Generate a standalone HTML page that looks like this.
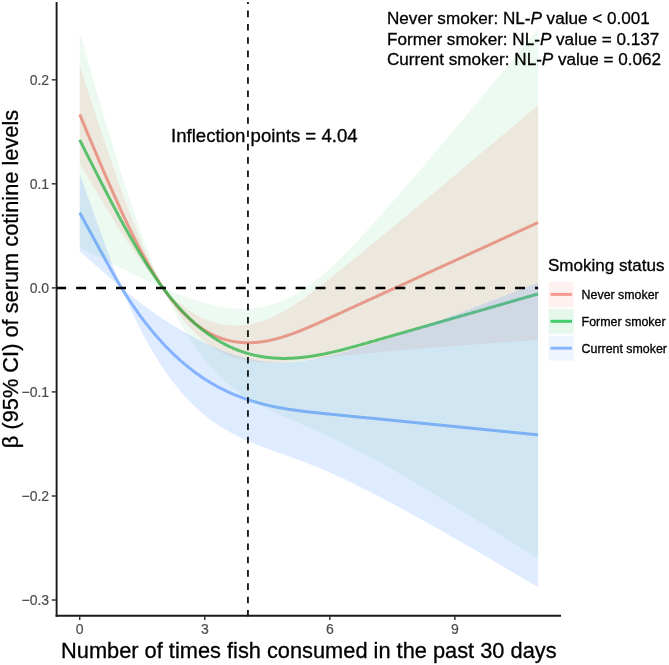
<!DOCTYPE html>
<html lang="en"><head><meta charset="utf-8"><title>Smoking status – fish consumption and serum cotinine</title>
<style>
html,body{margin:0;padding:0;background:#fff;}
body{width:669px;height:665px;overflow:hidden;font-family:"Liberation Sans", sans-serif;}
svg{display:block;}
</style></head><body>
<svg width="669" height="665" viewBox="0 0 669 665" font-family='"Liberation Sans", sans-serif'>
<rect width="669" height="665" fill="#fff"/>
<path d="M79.7,114.4 L80.7,116.8 L81.7,119.2 L82.7,121.6 L83.7,124.0 L84.7,126.4 L85.7,128.8 L86.7,131.2 L87.7,133.6 L88.7,136.0 L89.7,138.3 L90.7,140.7 L91.7,143.1 L92.7,145.5 L93.7,147.9 L94.7,150.2 L95.7,152.6 L96.7,155.0 L97.7,157.3 L98.7,159.7 L99.7,162.0 L100.7,164.4 L101.7,166.7 L102.7,169.0 L103.7,171.3 L104.7,173.7 L105.7,176.0 L106.7,178.3 L107.7,180.6 L108.7,182.8 L109.7,185.1 L110.7,187.4 L111.7,189.7 L112.7,191.9 L113.7,194.2 L114.7,196.4 L115.7,198.6 L116.7,200.8 L117.7,203.0 L118.6,205.2 L119.6,207.4 L120.6,209.6 L121.6,211.8 L122.6,213.9 L123.6,216.1 L124.6,218.2 L125.6,220.3 L126.6,222.4 L127.6,224.5 L128.6,226.6 L129.6,228.6 L130.6,230.7 L131.6,232.7 L132.6,234.7 L133.6,236.8 L134.6,238.7 L135.6,240.7 L136.6,242.7 L137.6,244.6 L138.6,246.6 L139.6,248.5 L140.6,250.4 L141.6,252.3 L142.6,254.1 L143.6,256.0 L144.6,257.8 L145.6,259.6 L146.6,261.4 L147.6,263.2 L148.6,264.9 L149.6,266.7 L150.6,268.4 L151.6,270.1 L152.6,271.8 L153.6,273.4 L154.6,275.1 L155.6,276.7 L156.6,278.3 L157.6,279.9 L158.6,281.4 L159.6,283.0 L160.6,284.5 L161.6,286.0 L162.6,287.5 L163.6,288.9 L164.6,290.3 L165.6,291.7 L166.6,293.1 L167.6,294.5 L168.6,295.8 L169.6,297.1 L170.6,298.4 L171.6,299.7 L172.6,300.9 L173.6,302.1 L174.6,303.3 L175.6,304.5 L176.6,305.7 L177.6,306.8 L178.6,307.9 L179.6,309.0 L180.6,310.1 L181.6,311.2 L182.6,312.2 L183.6,313.2 L184.6,314.2 L185.6,315.2 L186.6,316.2 L187.6,317.1 L188.6,318.0 L189.6,318.9 L190.6,319.8 L191.6,320.7 L192.6,321.5 L193.6,322.3 L194.5,323.1 L195.5,323.9 L196.5,324.7 L197.5,325.4 L198.5,326.2 L199.5,326.9 L200.5,327.6 L201.5,328.3 L202.5,328.9 L203.5,329.6 L204.5,330.2 L205.5,330.8 L206.5,331.4 L207.5,332.0 L208.5,332.5 L209.5,333.1 L210.5,333.6 L211.5,334.1 L212.5,334.6 L213.5,335.1 L214.5,335.5 L215.5,336.0 L216.5,336.4 L217.5,336.8 L218.5,337.2 L219.5,337.6 L220.5,338.0 L221.5,338.3 L222.5,338.7 L223.5,339.0 L224.5,339.3 L225.5,339.6 L226.5,339.9 L227.5,340.2 L228.5,340.4 L229.5,340.6 L230.5,340.9 L231.5,341.1 L232.5,341.3 L233.5,341.5 L234.5,341.6 L235.5,341.8 L236.5,341.9 L237.5,342.1 L238.5,342.2 L239.5,342.3 L240.5,342.4 L241.5,342.5 L242.5,342.6 L243.5,342.6 L244.5,342.7 L245.5,342.7 L246.5,342.7 L247.5,342.7 L248.5,342.7 L249.5,342.7 L250.5,342.7 L251.5,342.7 L252.5,342.6 L253.5,342.6 L254.5,342.5 L255.5,342.4 L256.5,342.4 L257.5,342.3 L258.5,342.2 L259.5,342.1 L260.5,341.9 L261.5,341.8 L262.5,341.7 L263.5,341.5 L264.5,341.3 L265.5,341.2 L266.5,341.0 L267.5,340.8 L268.5,340.6 L269.5,340.4 L270.5,340.2 L271.4,340.0 L272.4,339.8 L273.4,339.5 L274.4,339.3 L275.4,339.0 L276.4,338.8 L277.4,338.5 L278.4,338.2 L279.4,338.0 L280.4,337.7 L281.4,337.4 L282.4,337.1 L283.4,336.8 L284.4,336.5 L285.4,336.1 L286.4,335.8 L287.4,335.5 L288.4,335.1 L289.4,334.8 L290.4,334.4 L291.4,334.1 L292.4,333.7 L293.4,333.4 L294.4,333.0 L295.4,332.6 L296.4,332.3 L297.4,331.9 L298.4,331.5 L299.4,331.1 L300.4,330.7 L301.4,330.3 L302.4,329.9 L303.4,329.5 L304.4,329.1 L305.4,328.7 L306.4,328.2 L307.4,327.8 L308.4,327.4 L309.4,327.0 L310.4,326.5 L311.4,326.1 L312.4,325.7 L313.4,325.2 L314.4,324.8 L315.4,324.4 L316.4,323.9 L317.4,323.5 L318.4,323.0 L319.4,322.6 L320.4,322.1 L321.4,321.7 L322.4,321.2 L323.4,320.8 L324.4,320.3 L325.4,319.9 L326.4,319.4 L327.4,318.9 L328.4,318.5 L329.4,318.0 L330.4,317.6 L331.4,317.1 L332.4,316.7 L333.4,316.2 L334.4,315.7 L335.4,315.3 L336.4,314.8 L337.4,314.4 L338.4,313.9 L339.4,313.5 L340.4,313.0 L341.4,312.5 L342.4,312.1 L343.4,311.6 L344.4,311.2 L345.4,310.7 L346.4,310.3 L347.3,309.8 L348.3,309.3 L349.3,308.9 L350.3,308.4 L351.3,308.0 L352.3,307.5 L353.3,307.1 L354.3,306.6 L355.3,306.1 L356.3,305.7 L357.3,305.2 L358.3,304.8 L359.3,304.3 L360.3,303.9 L361.3,303.4 L362.3,302.9 L363.3,302.5 L364.3,302.0 L365.3,301.6 L366.3,301.1 L367.3,300.7 L368.3,300.2 L369.3,299.7 L370.3,299.3 L371.3,298.8 L372.3,298.4 L373.3,297.9 L374.3,297.5 L375.3,297.0 L376.3,296.6 L377.3,296.1 L378.3,295.6 L379.3,295.2 L380.3,294.7 L381.3,294.3 L382.3,293.8 L383.3,293.4 L384.3,292.9 L385.3,292.4 L386.3,292.0 L387.3,291.5 L388.3,291.1 L389.3,290.6 L390.3,290.2 L391.3,289.7 L392.3,289.2 L393.3,288.8 L394.3,288.3 L395.3,287.9 L396.3,287.4 L397.3,287.0 L398.3,286.5 L399.3,286.0 L400.3,285.6 L401.3,285.1 L402.3,284.7 L403.3,284.2 L404.3,283.8 L405.3,283.3 L406.3,282.8 L407.3,282.4 L408.3,281.9 L409.3,281.5 L410.3,281.0 L411.3,280.6 L412.3,280.1 L413.3,279.6 L414.3,279.2 L415.3,278.7 L416.3,278.3 L417.3,277.8 L418.3,277.4 L419.3,276.9 L420.3,276.4 L421.3,276.0 L422.3,275.5 L423.3,275.1 L424.2,274.6 L425.2,274.2 L426.2,273.7 L427.2,273.2 L428.2,272.8 L429.2,272.3 L430.2,271.9 L431.2,271.4 L432.2,271.0 L433.2,270.5 L434.2,270.0 L435.2,269.6 L436.2,269.1 L437.2,268.7 L438.2,268.2 L439.2,267.8 L440.2,267.3 L441.2,266.8 L442.2,266.4 L443.2,265.9 L444.2,265.5 L445.2,265.0 L446.2,264.6 L447.2,264.1 L448.2,263.7 L449.2,263.2 L450.2,262.7 L451.2,262.3 L452.2,261.8 L453.2,261.4 L454.2,260.9 L455.2,260.5 L456.2,260.0 L457.2,259.5 L458.2,259.1 L459.2,258.6 L460.2,258.2 L461.2,257.7 L462.2,257.3 L463.2,256.8 L464.2,256.3 L465.2,255.9 L466.2,255.4 L467.2,255.0 L468.2,254.5 L469.2,254.1 L470.2,253.6 L471.2,253.1 L472.2,252.7 L473.2,252.2 L474.2,251.8 L475.2,251.3 L476.2,250.9 L477.2,250.4 L478.2,249.9 L479.2,249.5 L480.2,249.0 L481.2,248.6 L482.2,248.1 L483.2,247.7 L484.2,247.2 L485.2,246.7 L486.2,246.3 L487.2,245.8 L488.2,245.4 L489.2,244.9 L490.2,244.5 L491.2,244.0 L492.2,243.5 L493.2,243.1 L494.2,242.6 L495.2,242.2 L496.2,241.7 L497.2,241.3 L498.2,240.8 L499.2,240.3 L500.1,239.9 L501.1,239.4 L502.1,239.0 L503.1,238.5 L504.1,238.1 L505.1,237.6 L506.1,237.1 L507.1,236.7 L508.1,236.2 L509.1,235.8 L510.1,235.3 L511.1,234.9 L512.1,234.4 L513.1,233.9 L514.1,233.5 L515.1,233.0 L516.1,232.6 L517.1,232.1 L518.1,231.7 L519.1,231.2 L520.1,230.8 L521.1,230.3 L522.1,229.8 L523.1,229.4 L524.1,228.9 L525.1,228.5 L526.1,228.0 L527.1,227.6 L528.1,227.1 L529.1,226.6 L530.1,226.2 L531.1,225.7 L532.1,225.3 L533.1,224.8 L534.1,224.4 L535.1,223.9 L536.1,223.4 L537.1,223.0 L538.1,222.5" fill="none" stroke="#F8766D" stroke-opacity="0.71" stroke-width="3.0" stroke-linejoin="round"/>
<path d="M79.7,139.8 L80.7,141.8 L81.7,143.8 L82.7,145.8 L83.7,147.8 L84.7,149.8 L85.7,151.8 L86.7,153.8 L87.7,155.8 L88.7,157.8 L89.7,159.7 L90.7,161.7 L91.7,163.7 L92.7,165.7 L93.7,167.7 L94.7,169.6 L95.7,171.6 L96.7,173.6 L97.7,175.5 L98.7,177.5 L99.7,179.5 L100.7,181.4 L101.7,183.4 L102.7,185.3 L103.7,187.2 L104.7,189.2 L105.7,191.1 L106.7,193.0 L107.7,195.0 L108.7,196.9 L109.7,198.8 L110.7,200.7 L111.7,202.6 L112.7,204.5 L113.7,206.4 L114.7,208.3 L115.7,210.1 L116.7,212.0 L117.7,213.9 L118.6,215.7 L119.6,217.6 L120.6,219.4 L121.6,221.3 L122.6,223.1 L123.6,224.9 L124.6,226.7 L125.6,228.5 L126.6,230.3 L127.6,232.1 L128.6,233.9 L129.6,235.6 L130.6,237.4 L131.6,239.1 L132.6,240.9 L133.6,242.6 L134.6,244.3 L135.6,246.0 L136.6,247.7 L137.6,249.4 L138.6,251.1 L139.6,252.7 L140.6,254.4 L141.6,256.0 L142.6,257.6 L143.6,259.3 L144.6,260.9 L145.6,262.4 L146.6,264.0 L147.6,265.6 L148.6,267.2 L149.6,268.7 L150.6,270.2 L151.6,271.7 L152.6,273.2 L153.6,274.7 L154.6,276.2 L155.6,277.7 L156.6,279.1 L157.6,280.5 L158.6,282.0 L159.6,283.4 L160.6,284.8 L161.6,286.1 L162.6,287.5 L163.6,288.8 L164.6,290.2 L165.6,291.5 L166.6,292.8 L167.6,294.0 L168.6,295.3 L169.6,296.6 L170.6,297.8 L171.6,299.0 L172.6,300.2 L173.6,301.4 L174.6,302.6 L175.6,303.7 L176.6,304.9 L177.6,306.0 L178.6,307.1 L179.6,308.2 L180.6,309.3 L181.6,310.4 L182.6,311.5 L183.6,312.5 L184.6,313.5 L185.6,314.5 L186.6,315.5 L187.6,316.5 L188.6,317.5 L189.6,318.5 L190.6,319.4 L191.6,320.4 L192.6,321.3 L193.6,322.2 L194.5,323.1 L195.5,324.0 L196.5,324.8 L197.5,325.7 L198.5,326.5 L199.5,327.3 L200.5,328.2 L201.5,329.0 L202.5,329.8 L203.5,330.5 L204.5,331.3 L205.5,332.1 L206.5,332.8 L207.5,333.5 L208.5,334.2 L209.5,334.9 L210.5,335.6 L211.5,336.3 L212.5,337.0 L213.5,337.6 L214.5,338.3 L215.5,338.9 L216.5,339.5 L217.5,340.1 L218.5,340.7 L219.5,341.3 L220.5,341.9 L221.5,342.5 L222.5,343.0 L223.5,343.5 L224.5,344.1 L225.5,344.6 L226.5,345.1 L227.5,345.6 L228.5,346.1 L229.5,346.6 L230.5,347.0 L231.5,347.5 L232.5,347.9 L233.5,348.4 L234.5,348.8 L235.5,349.2 L236.5,349.6 L237.5,350.0 L238.5,350.4 L239.5,350.7 L240.5,351.1 L241.5,351.4 L242.5,351.8 L243.5,352.1 L244.5,352.4 L245.5,352.8 L246.5,353.1 L247.5,353.4 L248.5,353.6 L249.5,353.9 L250.5,354.2 L251.5,354.4 L252.5,354.7 L253.5,354.9 L254.5,355.2 L255.5,355.4 L256.5,355.6 L257.5,355.8 L258.5,356.0 L259.5,356.2 L260.5,356.4 L261.5,356.5 L262.5,356.7 L263.5,356.9 L264.5,357.0 L265.5,357.2 L266.5,357.3 L267.5,357.4 L268.5,357.5 L269.5,357.6 L270.5,357.7 L271.4,357.8 L272.4,357.9 L273.4,358.0 L274.4,358.1 L275.4,358.1 L276.4,358.2 L277.4,358.2 L278.4,358.3 L279.4,358.3 L280.4,358.3 L281.4,358.4 L282.4,358.4 L283.4,358.4 L284.4,358.4 L285.4,358.4 L286.4,358.4 L287.4,358.3 L288.4,358.3 L289.4,358.3 L290.4,358.2 L291.4,358.2 L292.4,358.2 L293.4,358.1 L294.4,358.0 L295.4,358.0 L296.4,357.9 L297.4,357.8 L298.4,357.7 L299.4,357.7 L300.4,357.6 L301.4,357.5 L302.4,357.4 L303.4,357.2 L304.4,357.1 L305.4,357.0 L306.4,356.9 L307.4,356.8 L308.4,356.6 L309.4,356.5 L310.4,356.3 L311.4,356.2 L312.4,356.0 L313.4,355.9 L314.4,355.7 L315.4,355.5 L316.4,355.4 L317.4,355.2 L318.4,355.0 L319.4,354.8 L320.4,354.7 L321.4,354.5 L322.4,354.3 L323.4,354.1 L324.4,353.9 L325.4,353.7 L326.4,353.5 L327.4,353.2 L328.4,353.0 L329.4,352.8 L330.4,352.6 L331.4,352.4 L332.4,352.1 L333.4,351.9 L334.4,351.7 L335.4,351.4 L336.4,351.2 L337.4,351.0 L338.4,350.7 L339.4,350.5 L340.4,350.2 L341.4,350.0 L342.4,349.7 L343.4,349.5 L344.4,349.2 L345.4,348.9 L346.4,348.7 L347.3,348.4 L348.3,348.2 L349.3,347.9 L350.3,347.6 L351.3,347.3 L352.3,347.1 L353.3,346.8 L354.3,346.5 L355.3,346.3 L356.3,346.0 L357.3,345.7 L358.3,345.4 L359.3,345.1 L360.3,344.9 L361.3,344.6 L362.3,344.3 L363.3,344.0 L364.3,343.7 L365.3,343.4 L366.3,343.2 L367.3,342.9 L368.3,342.6 L369.3,342.3 L370.3,342.0 L371.3,341.7 L372.3,341.4 L373.3,341.1 L374.3,340.9 L375.3,340.6 L376.3,340.3 L377.3,340.0 L378.3,339.7 L379.3,339.4 L380.3,339.1 L381.3,338.9 L382.3,338.6 L383.3,338.3 L384.3,338.0 L385.3,337.7 L386.3,337.4 L387.3,337.1 L388.3,336.9 L389.3,336.6 L390.3,336.3 L391.3,336.0 L392.3,335.7 L393.3,335.4 L394.3,335.1 L395.3,334.8 L396.3,334.6 L397.3,334.3 L398.3,334.0 L399.3,333.7 L400.3,333.4 L401.3,333.1 L402.3,332.8 L403.3,332.6 L404.3,332.3 L405.3,332.0 L406.3,331.7 L407.3,331.4 L408.3,331.1 L409.3,330.8 L410.3,330.5 L411.3,330.3 L412.3,330.0 L413.3,329.7 L414.3,329.4 L415.3,329.1 L416.3,328.8 L417.3,328.5 L418.3,328.3 L419.3,328.0 L420.3,327.7 L421.3,327.4 L422.3,327.1 L423.3,326.8 L424.2,326.5 L425.2,326.3 L426.2,326.0 L427.2,325.7 L428.2,325.4 L429.2,325.1 L430.2,324.8 L431.2,324.5 L432.2,324.2 L433.2,324.0 L434.2,323.7 L435.2,323.4 L436.2,323.1 L437.2,322.8 L438.2,322.5 L439.2,322.2 L440.2,322.0 L441.2,321.7 L442.2,321.4 L443.2,321.1 L444.2,320.8 L445.2,320.5 L446.2,320.2 L447.2,320.0 L448.2,319.7 L449.2,319.4 L450.2,319.1 L451.2,318.8 L452.2,318.5 L453.2,318.2 L454.2,317.9 L455.2,317.7 L456.2,317.4 L457.2,317.1 L458.2,316.8 L459.2,316.5 L460.2,316.2 L461.2,315.9 L462.2,315.7 L463.2,315.4 L464.2,315.1 L465.2,314.8 L466.2,314.5 L467.2,314.2 L468.2,313.9 L469.2,313.6 L470.2,313.4 L471.2,313.1 L472.2,312.8 L473.2,312.5 L474.2,312.2 L475.2,311.9 L476.2,311.6 L477.2,311.4 L478.2,311.1 L479.2,310.8 L480.2,310.5 L481.2,310.2 L482.2,309.9 L483.2,309.6 L484.2,309.4 L485.2,309.1 L486.2,308.8 L487.2,308.5 L488.2,308.2 L489.2,307.9 L490.2,307.6 L491.2,307.3 L492.2,307.1 L493.2,306.8 L494.2,306.5 L495.2,306.2 L496.2,305.9 L497.2,305.6 L498.2,305.3 L499.2,305.1 L500.1,304.8 L501.1,304.5 L502.1,304.2 L503.1,303.9 L504.1,303.6 L505.1,303.3 L506.1,303.1 L507.1,302.8 L508.1,302.5 L509.1,302.2 L510.1,301.9 L511.1,301.6 L512.1,301.3 L513.1,301.0 L514.1,300.8 L515.1,300.5 L516.1,300.2 L517.1,299.9 L518.1,299.6 L519.1,299.3 L520.1,299.0 L521.1,298.8 L522.1,298.5 L523.1,298.2 L524.1,297.9 L525.1,297.6 L526.1,297.3 L527.1,297.0 L528.1,296.7 L529.1,296.5 L530.1,296.2 L531.1,295.9 L532.1,295.6 L533.1,295.3 L534.1,295.0 L535.1,294.7 L536.1,294.5 L537.1,294.2 L538.1,293.9" fill="none" stroke="#00BA38" stroke-opacity="0.71" stroke-width="3.0" stroke-linejoin="round"/>
<path d="M79.7,212.7 L80.7,214.5 L81.7,216.4 L82.7,218.2 L83.7,220.0 L84.7,221.8 L85.7,223.7 L86.7,225.5 L87.7,227.3 L88.7,229.1 L89.7,231.0 L90.7,232.8 L91.7,234.6 L92.7,236.4 L93.7,238.3 L94.7,240.1 L95.7,241.9 L96.7,243.7 L97.7,245.6 L98.7,247.4 L99.7,249.2 L100.7,251.0 L101.7,252.9 L102.7,254.7 L103.7,256.5 L104.7,258.3 L105.7,260.2 L106.7,262.0 L107.7,263.8 L108.7,265.6 L109.7,267.4 L110.7,269.2 L111.7,271.0 L112.7,272.7 L113.7,274.5 L114.7,276.2 L115.7,278.0 L116.7,279.7 L117.7,281.4 L118.6,283.0 L119.6,284.7 L120.6,286.3 L121.6,288.0 L122.6,289.6 L123.6,291.2 L124.6,292.8 L125.6,294.4 L126.6,295.9 L127.6,297.5 L128.6,299.0 L129.6,300.5 L130.6,302.0 L131.6,303.5 L132.6,305.0 L133.6,306.4 L134.6,307.9 L135.6,309.3 L136.6,310.7 L137.6,312.1 L138.6,313.5 L139.6,314.9 L140.6,316.3 L141.6,317.6 L142.6,319.0 L143.6,320.3 L144.6,321.6 L145.6,322.9 L146.6,324.2 L147.6,325.4 L148.6,326.7 L149.6,327.9 L150.6,329.2 L151.6,330.4 L152.6,331.6 L153.6,332.8 L154.6,334.0 L155.6,335.2 L156.6,336.3 L157.6,337.5 L158.6,338.6 L159.6,339.7 L160.6,340.8 L161.6,341.9 L162.6,343.0 L163.6,344.1 L164.6,345.2 L165.6,346.2 L166.6,347.3 L167.6,348.3 L168.6,349.3 L169.6,350.3 L170.6,351.3 L171.6,352.3 L172.6,353.3 L173.6,354.2 L174.6,355.2 L175.6,356.1 L176.6,357.0 L177.6,357.9 L178.6,358.9 L179.6,359.8 L180.6,360.6 L181.6,361.5 L182.6,362.4 L183.6,363.2 L184.6,364.1 L185.6,364.9 L186.6,365.7 L187.6,366.5 L188.6,367.3 L189.6,368.1 L190.6,368.9 L191.6,369.7 L192.6,370.5 L193.6,371.2 L194.5,372.0 L195.5,372.7 L196.5,373.4 L197.5,374.1 L198.5,374.8 L199.5,375.5 L200.5,376.2 L201.5,376.9 L202.5,377.6 L203.5,378.2 L204.5,378.9 L205.5,379.5 L206.5,380.2 L207.5,380.8 L208.5,381.4 L209.5,382.0 L210.5,382.6 L211.5,383.2 L212.5,383.8 L213.5,384.4 L214.5,384.9 L215.5,385.5 L216.5,386.0 L217.5,386.6 L218.5,387.1 L219.5,387.7 L220.5,388.2 L221.5,388.7 L222.5,389.2 L223.5,389.7 L224.5,390.2 L225.5,390.7 L226.5,391.1 L227.5,391.6 L228.5,392.1 L229.5,392.5 L230.5,393.0 L231.5,393.4 L232.5,393.8 L233.5,394.3 L234.5,394.7 L235.5,395.1 L236.5,395.5 L237.5,395.9 L238.5,396.3 L239.5,396.7 L240.5,397.0 L241.5,397.4 L242.5,397.8 L243.5,398.1 L244.5,398.5 L245.5,398.9 L246.5,399.2 L247.5,399.5 L248.5,399.9 L249.5,400.2 L250.5,400.5 L251.5,400.8 L252.5,401.1 L253.5,401.4 L254.5,401.7 L255.5,402.0 L256.5,402.3 L257.5,402.6 L258.5,402.9 L259.5,403.1 L260.5,403.4 L261.5,403.7 L262.5,403.9 L263.5,404.2 L264.5,404.4 L265.5,404.7 L266.5,404.9 L267.5,405.2 L268.5,405.4 L269.5,405.6 L270.5,405.8 L271.4,406.1 L272.4,406.3 L273.4,406.5 L274.4,406.7 L275.4,406.9 L276.4,407.1 L277.4,407.3 L278.4,407.5 L279.4,407.7 L280.4,407.8 L281.4,408.0 L282.4,408.2 L283.4,408.4 L284.4,408.5 L285.4,408.7 L286.4,408.9 L287.4,409.0 L288.4,409.2 L289.4,409.4 L290.4,409.5 L291.4,409.7 L292.4,409.8 L293.4,410.0 L294.4,410.1 L295.4,410.2 L296.4,410.4 L297.4,410.5 L298.4,410.6 L299.4,410.8 L300.4,410.9 L301.4,411.0 L302.4,411.2 L303.4,411.3 L304.4,411.4 L305.4,411.5 L306.4,411.6 L307.4,411.8 L308.4,411.9 L309.4,412.0 L310.4,412.1 L311.4,412.2 L312.4,412.3 L313.4,412.4 L314.4,412.5 L315.4,412.6 L316.4,412.7 L317.4,412.8 L318.4,413.0 L319.4,413.1 L320.4,413.2 L321.4,413.3 L322.4,413.4 L323.4,413.5 L324.4,413.6 L325.4,413.7 L326.4,413.8 L327.4,413.9 L328.4,414.0 L329.4,414.1 L330.4,414.2 L331.4,414.3 L332.4,414.4 L333.4,414.5 L334.4,414.6 L335.4,414.7 L336.4,414.8 L337.4,414.9 L338.4,415.0 L339.4,415.1 L340.4,415.2 L341.4,415.3 L342.4,415.4 L343.4,415.5 L344.4,415.6 L345.4,415.7 L346.4,415.8 L347.3,415.9 L348.3,416.0 L349.3,416.1 L350.3,416.2 L351.3,416.3 L352.3,416.4 L353.3,416.5 L354.3,416.6 L355.3,416.7 L356.3,416.8 L357.3,416.9 L358.3,417.0 L359.3,417.1 L360.3,417.2 L361.3,417.3 L362.3,417.4 L363.3,417.5 L364.3,417.6 L365.3,417.7 L366.3,417.8 L367.3,417.9 L368.3,418.0 L369.3,418.1 L370.3,418.1 L371.3,418.2 L372.3,418.3 L373.3,418.4 L374.3,418.5 L375.3,418.6 L376.3,418.7 L377.3,418.8 L378.3,418.9 L379.3,419.0 L380.3,419.1 L381.3,419.2 L382.3,419.3 L383.3,419.4 L384.3,419.5 L385.3,419.6 L386.3,419.7 L387.3,419.8 L388.3,419.9 L389.3,420.0 L390.3,420.1 L391.3,420.2 L392.3,420.3 L393.3,420.4 L394.3,420.5 L395.3,420.6 L396.3,420.7 L397.3,420.8 L398.3,420.9 L399.3,421.0 L400.3,421.1 L401.3,421.2 L402.3,421.3 L403.3,421.4 L404.3,421.5 L405.3,421.6 L406.3,421.7 L407.3,421.8 L408.3,421.9 L409.3,422.0 L410.3,422.1 L411.3,422.2 L412.3,422.3 L413.3,422.4 L414.3,422.5 L415.3,422.6 L416.3,422.7 L417.3,422.8 L418.3,422.9 L419.3,423.0 L420.3,423.1 L421.3,423.2 L422.3,423.3 L423.3,423.4 L424.2,423.5 L425.2,423.6 L426.2,423.7 L427.2,423.8 L428.2,423.9 L429.2,424.0 L430.2,424.1 L431.2,424.2 L432.2,424.3 L433.2,424.4 L434.2,424.5 L435.2,424.6 L436.2,424.7 L437.2,424.8 L438.2,424.9 L439.2,425.0 L440.2,425.1 L441.2,425.2 L442.2,425.3 L443.2,425.4 L444.2,425.5 L445.2,425.6 L446.2,425.7 L447.2,425.8 L448.2,425.9 L449.2,426.0 L450.2,426.1 L451.2,426.2 L452.2,426.3 L453.2,426.4 L454.2,426.5 L455.2,426.6 L456.2,426.7 L457.2,426.8 L458.2,426.9 L459.2,427.0 L460.2,427.1 L461.2,427.2 L462.2,427.3 L463.2,427.4 L464.2,427.5 L465.2,427.6 L466.2,427.7 L467.2,427.8 L468.2,427.9 L469.2,428.0 L470.2,428.1 L471.2,428.2 L472.2,428.3 L473.2,428.4 L474.2,428.5 L475.2,428.6 L476.2,428.7 L477.2,428.8 L478.2,428.9 L479.2,429.0 L480.2,429.1 L481.2,429.2 L482.2,429.3 L483.2,429.4 L484.2,429.5 L485.2,429.6 L486.2,429.7 L487.2,429.8 L488.2,429.9 L489.2,430.0 L490.2,430.1 L491.2,430.2 L492.2,430.3 L493.2,430.4 L494.2,430.5 L495.2,430.6 L496.2,430.7 L497.2,430.8 L498.2,430.9 L499.2,431.0 L500.1,431.1 L501.1,431.2 L502.1,431.3 L503.1,431.4 L504.1,431.5 L505.1,431.6 L506.1,431.7 L507.1,431.8 L508.1,431.9 L509.1,432.0 L510.1,432.1 L511.1,432.2 L512.1,432.3 L513.1,432.4 L514.1,432.5 L515.1,432.6 L516.1,432.7 L517.1,432.8 L518.1,432.9 L519.1,433.0 L520.1,433.1 L521.1,433.2 L522.1,433.3 L523.1,433.4 L524.1,433.5 L525.1,433.6 L526.1,433.7 L527.1,433.8 L528.1,433.9 L529.1,434.0 L530.1,434.1 L531.1,434.2 L532.1,434.3 L533.1,434.4 L534.1,434.5 L535.1,434.6 L536.1,434.7 L537.1,434.8 L538.1,434.9" fill="none" stroke="#619CFF" stroke-opacity="0.71" stroke-width="3.0" stroke-linejoin="round"/>
<path d="M79.7,65.5 L80.7,68.6 L81.7,71.6 L82.7,74.7 L83.7,77.8 L84.7,80.9 L85.7,84.0 L86.7,87.1 L87.7,90.1 L88.7,93.2 L89.7,96.3 L90.7,99.4 L91.7,102.4 L92.7,105.5 L93.7,108.5 L94.7,111.6 L95.7,114.6 L96.7,117.7 L97.7,120.7 L98.7,123.7 L99.7,126.7 L100.7,129.8 L101.7,132.8 L102.7,135.8 L103.7,138.7 L104.7,141.7 L105.7,144.7 L106.7,147.7 L107.7,150.6 L108.7,153.5 L109.7,156.5 L110.7,159.4 L111.7,162.3 L112.7,165.2 L113.7,168.1 L114.7,171.0 L115.7,173.8 L116.7,176.7 L117.7,179.5 L118.6,182.3 L119.6,185.1 L120.6,187.9 L121.6,190.7 L122.6,193.4 L123.6,196.2 L124.6,198.9 L125.6,201.6 L126.6,204.3 L127.6,207.0 L128.6,209.7 L129.6,212.3 L130.6,214.9 L131.6,217.5 L132.6,220.1 L133.6,222.7 L134.6,225.2 L135.6,227.8 L136.6,230.3 L137.6,232.8 L138.6,235.2 L139.6,237.7 L140.6,240.1 L141.6,242.5 L142.6,244.9 L143.6,247.3 L144.6,249.6 L145.6,251.9 L146.6,254.2 L147.6,256.5 L148.6,258.7 L149.6,260.9 L150.6,263.1 L151.6,265.3 L152.6,267.4 L153.6,269.5 L154.6,271.6 L155.6,273.7 L156.6,275.7 L157.6,277.7 L158.6,279.7 L159.6,281.7 L160.6,283.6 L161.6,285.5 L162.6,287.3 L163.6,288.6 L164.6,289.7 L165.6,290.7 L166.6,291.7 L167.6,292.7 L168.6,293.7 L169.6,294.6 L170.6,295.6 L171.6,296.5 L172.6,297.4 L173.6,298.3 L174.6,299.2 L175.6,300.1 L176.6,300.9 L177.6,301.8 L178.6,302.6 L179.6,303.4 L180.6,304.2 L181.6,305.0 L182.6,305.7 L183.6,306.5 L184.6,307.2 L185.6,307.9 L186.6,308.6 L187.6,309.3 L188.6,310.0 L189.6,310.7 L190.6,311.3 L191.6,311.9 L192.6,312.5 L193.6,313.1 L194.5,313.7 L195.5,314.3 L196.5,314.9 L197.5,315.4 L198.5,315.9 L199.5,316.4 L200.5,316.9 L201.5,317.4 L202.5,317.9 L203.5,318.3 L204.5,318.8 L205.5,319.2 L206.5,319.6 L207.5,320.0 L208.5,320.4 L209.5,320.8 L210.5,321.1 L211.5,321.5 L212.5,321.8 L213.5,322.1 L214.5,322.4 L215.5,322.7 L216.5,323.0 L217.5,323.2 L218.5,323.5 L219.5,323.7 L220.5,323.9 L221.5,324.1 L222.5,324.3 L223.5,324.5 L224.5,324.7 L225.5,324.8 L226.5,324.9 L227.5,325.1 L228.5,325.2 L229.5,325.3 L230.5,325.4 L231.5,325.4 L232.5,325.5 L233.5,325.5 L234.5,325.5 L235.5,325.5 L236.5,325.5 L237.5,325.5 L238.5,325.5 L239.5,325.5 L240.5,325.4 L241.5,325.3 L242.5,325.3 L243.5,325.2 L244.5,325.1 L245.5,324.9 L246.5,324.8 L247.5,324.7 L248.5,324.5 L249.5,324.3 L250.5,324.1 L251.5,323.9 L252.5,323.7 L253.5,323.5 L254.5,323.3 L255.5,323.0 L256.5,322.8 L257.5,322.5 L258.5,322.2 L259.5,321.9 L260.5,321.6 L261.5,321.3 L262.5,321.0 L263.5,320.6 L264.5,320.3 L265.5,319.9 L266.5,319.5 L267.5,319.1 L268.5,318.7 L269.5,318.3 L270.5,317.9 L271.4,317.5 L272.4,317.0 L273.4,316.6 L274.4,316.1 L275.4,315.6 L276.4,315.1 L277.4,314.6 L278.4,314.1 L279.4,313.6 L280.4,313.1 L281.4,312.6 L282.4,312.0 L283.4,311.5 L284.4,310.9 L285.4,310.3 L286.4,309.7 L287.4,309.2 L288.4,308.6 L289.4,307.9 L290.4,307.3 L291.4,306.7 L292.4,306.1 L293.4,305.4 L294.4,304.8 L295.4,304.1 L296.4,303.5 L297.4,302.8 L298.4,302.2 L299.4,301.5 L300.4,300.8 L301.4,300.1 L302.4,299.4 L303.4,298.7 L304.4,298.0 L305.4,297.3 L306.4,296.5 L307.4,295.8 L308.4,295.1 L309.4,294.4 L310.4,293.6 L311.4,292.9 L312.4,292.1 L313.4,291.4 L314.4,290.6 L315.4,289.8 L316.4,289.1 L317.4,288.3 L318.4,287.5 L319.4,286.8 L320.4,286.0 L321.4,285.2 L322.4,284.4 L323.4,283.6 L324.4,282.8 L325.4,282.1 L326.4,281.3 L327.4,280.5 L328.4,279.7 L329.4,278.9 L330.4,278.1 L331.4,277.3 L332.4,276.5 L333.4,275.7 L334.4,274.9 L335.4,274.1 L336.4,273.3 L337.4,272.5 L338.4,271.7 L339.4,270.9 L340.4,270.1 L341.4,269.3 L342.4,268.5 L343.4,267.7 L344.4,266.8 L345.4,266.0 L346.4,265.2 L347.3,264.4 L348.3,263.6 L349.3,262.8 L350.3,262.0 L351.3,261.2 L352.3,260.4 L353.3,259.5 L354.3,258.7 L355.3,257.9 L356.3,257.1 L357.3,256.3 L358.3,255.5 L359.3,254.7 L360.3,253.8 L361.3,253.0 L362.3,252.2 L363.3,251.4 L364.3,250.6 L365.3,249.7 L366.3,248.9 L367.3,248.1 L368.3,247.3 L369.3,246.5 L370.3,245.6 L371.3,244.8 L372.3,244.0 L373.3,243.2 L374.3,242.4 L375.3,241.5 L376.3,240.7 L377.3,239.9 L378.3,239.1 L379.3,238.2 L380.3,237.4 L381.3,236.6 L382.3,235.8 L383.3,234.9 L384.3,234.1 L385.3,233.3 L386.3,232.5 L387.3,231.6 L388.3,230.8 L389.3,230.0 L390.3,229.1 L391.3,228.3 L392.3,227.5 L393.3,226.7 L394.3,225.8 L395.3,225.0 L396.3,224.2 L397.3,223.3 L398.3,222.5 L399.3,221.7 L400.3,220.9 L401.3,220.0 L402.3,219.2 L403.3,218.4 L404.3,217.5 L405.3,216.7 L406.3,215.9 L407.3,215.0 L408.3,214.2 L409.3,213.4 L410.3,212.5 L411.3,211.7 L412.3,210.9 L413.3,210.0 L414.3,209.2 L415.3,208.4 L416.3,207.5 L417.3,206.7 L418.3,205.9 L419.3,205.0 L420.3,204.2 L421.3,203.4 L422.3,202.5 L423.3,201.7 L424.2,200.9 L425.2,200.0 L426.2,199.2 L427.2,198.4 L428.2,197.5 L429.2,196.7 L430.2,195.9 L431.2,195.0 L432.2,194.2 L433.2,193.4 L434.2,192.5 L435.2,191.7 L436.2,190.9 L437.2,190.0 L438.2,189.2 L439.2,188.3 L440.2,187.5 L441.2,186.7 L442.2,185.8 L443.2,185.0 L444.2,184.2 L445.2,183.3 L446.2,182.5 L447.2,181.7 L448.2,180.8 L449.2,180.0 L450.2,179.1 L451.2,178.3 L452.2,177.5 L453.2,176.6 L454.2,175.8 L455.2,174.9 L456.2,174.1 L457.2,173.3 L458.2,172.4 L459.2,171.6 L460.2,170.8 L461.2,169.9 L462.2,169.1 L463.2,168.2 L464.2,167.4 L465.2,166.6 L466.2,165.7 L467.2,164.9 L468.2,164.0 L469.2,163.2 L470.2,162.4 L471.2,161.5 L472.2,160.7 L473.2,159.9 L474.2,159.0 L475.2,158.2 L476.2,157.3 L477.2,156.5 L478.2,155.7 L479.2,154.8 L480.2,154.0 L481.2,153.1 L482.2,152.3 L483.2,151.5 L484.2,150.6 L485.2,149.8 L486.2,148.9 L487.2,148.1 L488.2,147.3 L489.2,146.4 L490.2,145.6 L491.2,144.7 L492.2,143.9 L493.2,143.0 L494.2,142.2 L495.2,141.4 L496.2,140.5 L497.2,139.7 L498.2,138.8 L499.2,138.0 L500.1,137.2 L501.1,136.3 L502.1,135.5 L503.1,134.6 L504.1,133.8 L505.1,133.0 L506.1,132.1 L507.1,131.3 L508.1,130.4 L509.1,129.6 L510.1,128.7 L511.1,127.9 L512.1,127.1 L513.1,126.2 L514.1,125.4 L515.1,124.5 L516.1,123.7 L517.1,122.9 L518.1,122.0 L519.1,121.2 L520.1,120.3 L521.1,119.5 L522.1,118.6 L523.1,117.8 L524.1,117.0 L525.1,116.1 L526.1,115.3 L527.1,114.4 L528.1,113.6 L529.1,112.7 L530.1,111.9 L531.1,111.1 L532.1,110.2 L533.1,109.4 L534.1,108.5 L535.1,107.7 L536.1,106.8 L537.1,106.0 L538.1,105.2 L538.1,339.9 L537.1,340.0 L536.1,340.0 L535.1,340.1 L534.1,340.2 L533.1,340.2 L532.1,340.3 L531.1,340.4 L530.1,340.5 L529.1,340.5 L528.1,340.6 L527.1,340.7 L526.1,340.7 L525.1,340.8 L524.1,340.9 L523.1,341.0 L522.1,341.0 L521.1,341.1 L520.1,341.2 L519.1,341.2 L518.1,341.3 L517.1,341.4 L516.1,341.5 L515.1,341.5 L514.1,341.6 L513.1,341.7 L512.1,341.8 L511.1,341.8 L510.1,341.9 L509.1,342.0 L508.1,342.0 L507.1,342.1 L506.1,342.2 L505.1,342.3 L504.1,342.3 L503.1,342.4 L502.1,342.5 L501.1,342.5 L500.1,342.6 L499.2,342.7 L498.2,342.8 L497.2,342.8 L496.2,342.9 L495.2,343.0 L494.2,343.1 L493.2,343.1 L492.2,343.2 L491.2,343.3 L490.2,343.3 L489.2,343.4 L488.2,343.5 L487.2,343.6 L486.2,343.6 L485.2,343.7 L484.2,343.8 L483.2,343.9 L482.2,343.9 L481.2,344.0 L480.2,344.1 L479.2,344.2 L478.2,344.2 L477.2,344.3 L476.2,344.4 L475.2,344.5 L474.2,344.5 L473.2,344.6 L472.2,344.7 L471.2,344.8 L470.2,344.8 L469.2,344.9 L468.2,345.0 L467.2,345.1 L466.2,345.1 L465.2,345.2 L464.2,345.3 L463.2,345.4 L462.2,345.4 L461.2,345.5 L460.2,345.6 L459.2,345.7 L458.2,345.7 L457.2,345.8 L456.2,345.9 L455.2,346.0 L454.2,346.0 L453.2,346.1 L452.2,346.2 L451.2,346.3 L450.2,346.3 L449.2,346.4 L448.2,346.5 L447.2,346.6 L446.2,346.6 L445.2,346.7 L444.2,346.8 L443.2,346.9 L442.2,347.0 L441.2,347.0 L440.2,347.1 L439.2,347.2 L438.2,347.3 L437.2,347.3 L436.2,347.4 L435.2,347.5 L434.2,347.6 L433.2,347.6 L432.2,347.7 L431.2,347.8 L430.2,347.9 L429.2,348.0 L428.2,348.0 L427.2,348.1 L426.2,348.2 L425.2,348.3 L424.2,348.4 L423.3,348.4 L422.3,348.5 L421.3,348.6 L420.3,348.7 L419.3,348.8 L418.3,348.8 L417.3,348.9 L416.3,349.0 L415.3,349.1 L414.3,349.2 L413.3,349.2 L412.3,349.3 L411.3,349.4 L410.3,349.5 L409.3,349.6 L408.3,349.7 L407.3,349.7 L406.3,349.8 L405.3,349.9 L404.3,350.0 L403.3,350.1 L402.3,350.1 L401.3,350.2 L400.3,350.3 L399.3,350.4 L398.3,350.5 L397.3,350.6 L396.3,350.7 L395.3,350.7 L394.3,350.8 L393.3,350.9 L392.3,351.0 L391.3,351.1 L390.3,351.2 L389.3,351.3 L388.3,351.3 L387.3,351.4 L386.3,351.5 L385.3,351.6 L384.3,351.7 L383.3,351.8 L382.3,351.9 L381.3,352.0 L380.3,352.0 L379.3,352.1 L378.3,352.2 L377.3,352.3 L376.3,352.4 L375.3,352.5 L374.3,352.6 L373.3,352.7 L372.3,352.8 L371.3,352.9 L370.3,352.9 L369.3,353.0 L368.3,353.1 L367.3,353.2 L366.3,353.3 L365.3,353.4 L364.3,353.5 L363.3,353.6 L362.3,353.7 L361.3,353.8 L360.3,353.9 L359.3,354.0 L358.3,354.1 L357.3,354.2 L356.3,354.3 L355.3,354.4 L354.3,354.5 L353.3,354.6 L352.3,354.7 L351.3,354.8 L350.3,354.9 L349.3,355.0 L348.3,355.1 L347.3,355.2 L346.4,355.3 L345.4,355.4 L344.4,355.5 L343.4,355.6 L342.4,355.7 L341.4,355.8 L340.4,355.9 L339.4,356.0 L338.4,356.1 L337.4,356.3 L336.4,356.4 L335.4,356.5 L334.4,356.6 L333.4,356.7 L332.4,356.8 L331.4,356.9 L330.4,357.1 L329.4,357.2 L328.4,357.3 L327.4,357.4 L326.4,357.5 L325.4,357.7 L324.4,357.8 L323.4,357.9 L322.4,358.0 L321.4,358.1 L320.4,358.3 L319.4,358.4 L318.4,358.5 L317.4,358.6 L316.4,358.7 L315.4,358.9 L314.4,359.0 L313.4,359.1 L312.4,359.2 L311.4,359.4 L310.4,359.5 L309.4,359.6 L308.4,359.7 L307.4,359.8 L306.4,359.9 L305.4,360.1 L304.4,360.2 L303.4,360.3 L302.4,360.4 L301.4,360.5 L300.4,360.6 L299.4,360.7 L298.4,360.8 L297.4,360.9 L296.4,361.0 L295.4,361.1 L294.4,361.2 L293.4,361.3 L292.4,361.4 L291.4,361.5 L290.4,361.6 L289.4,361.6 L288.4,361.7 L287.4,361.8 L286.4,361.9 L285.4,361.9 L284.4,362.0 L283.4,362.1 L282.4,362.1 L281.4,362.2 L280.4,362.2 L279.4,362.3 L278.4,362.3 L277.4,362.4 L276.4,362.4 L275.4,362.4 L274.4,362.5 L273.4,362.5 L272.4,362.5 L271.4,362.5 L270.5,362.5 L269.5,362.5 L268.5,362.5 L267.5,362.5 L266.5,362.5 L265.5,362.5 L264.5,362.4 L263.5,362.4 L262.5,362.3 L261.5,362.3 L260.5,362.2 L259.5,362.2 L258.5,362.1 L257.5,362.0 L256.5,361.9 L255.5,361.9 L254.5,361.8 L253.5,361.6 L252.5,361.5 L251.5,361.4 L250.5,361.3 L249.5,361.1 L248.5,361.0 L247.5,360.8 L246.5,360.6 L245.5,360.5 L244.5,360.3 L243.5,360.1 L242.5,359.8 L241.5,359.6 L240.5,359.4 L239.5,359.1 L238.5,358.9 L237.5,358.6 L236.5,358.3 L235.5,358.0 L234.5,357.7 L233.5,357.4 L232.5,357.1 L231.5,356.7 L230.5,356.4 L229.5,356.0 L228.5,355.6 L227.5,355.2 L226.5,354.8 L225.5,354.4 L224.5,354.0 L223.5,353.5 L222.5,353.0 L221.5,352.5 L220.5,352.0 L219.5,351.5 L218.5,351.0 L217.5,350.4 L216.5,349.8 L215.5,349.3 L214.5,348.7 L213.5,348.0 L212.5,347.4 L211.5,346.7 L210.5,346.1 L209.5,345.4 L208.5,344.7 L207.5,343.9 L206.5,343.2 L205.5,342.4 L204.5,341.6 L203.5,340.8 L202.5,340.0 L201.5,339.1 L200.5,338.2 L199.5,337.3 L198.5,336.4 L197.5,335.5 L196.5,334.5 L195.5,333.6 L194.5,332.5 L193.6,331.5 L192.6,330.5 L191.6,329.4 L190.6,328.3 L189.6,327.2 L188.6,326.0 L187.6,324.9 L186.6,323.7 L185.6,322.5 L184.6,321.2 L183.6,320.0 L182.6,318.7 L181.6,317.4 L180.6,316.0 L179.6,314.7 L178.6,313.3 L177.6,311.9 L176.6,310.4 L175.6,309.0 L174.6,307.5 L173.6,305.9 L172.6,304.4 L171.6,302.8 L170.6,301.2 L169.6,299.6 L168.6,297.9 L167.6,296.2 L166.6,294.5 L165.6,292.7 L164.6,291.0 L163.6,289.2 L162.6,287.6 L161.6,286.5 L160.6,285.4 L159.6,284.3 L158.6,283.2 L157.6,282.0 L156.6,280.9 L155.6,279.7 L154.6,278.6 L153.6,277.4 L152.6,276.2 L151.6,274.9 L150.6,273.7 L149.6,272.4 L148.6,271.2 L147.6,269.9 L146.6,268.6 L145.6,267.3 L144.6,266.0 L143.6,264.7 L142.6,263.3 L141.6,262.0 L140.6,260.6 L139.6,259.3 L138.6,257.9 L137.6,256.5 L136.6,255.1 L135.6,253.7 L134.6,252.2 L133.6,250.8 L132.6,249.4 L131.6,247.9 L130.6,246.4 L129.6,245.0 L128.6,243.5 L127.6,242.0 L126.6,240.5 L125.6,239.0 L124.6,237.5 L123.6,235.9 L122.6,234.4 L121.6,232.9 L120.6,231.3 L119.6,229.7 L118.6,228.2 L117.7,226.6 L116.7,225.0 L115.7,223.4 L114.7,221.8 L113.7,220.2 L112.7,218.6 L111.7,217.0 L110.7,215.4 L109.7,213.8 L108.7,212.2 L107.7,210.5 L106.7,208.9 L105.7,207.2 L104.7,205.6 L103.7,203.9 L102.7,202.3 L101.7,200.6 L100.7,198.9 L99.7,197.3 L98.7,195.6 L97.7,193.9 L96.7,192.2 L95.7,190.6 L94.7,188.9 L93.7,187.2 L92.7,185.5 L91.7,183.8 L90.7,182.1 L89.7,180.4 L88.7,178.7 L87.7,177.0 L86.7,175.3 L85.7,173.6 L84.7,171.9 L83.7,170.2 L82.7,168.5 L81.7,166.8 L80.7,165.1 L79.7,163.3Z" fill="#F8766D" fill-opacity="0.14" stroke="none"/>
<path d="M79.7,32.3 L80.7,35.8 L81.7,39.3 L82.7,42.8 L83.7,46.2 L84.7,49.7 L85.7,53.2 L86.7,56.7 L87.7,60.1 L88.7,63.6 L89.7,67.0 L90.7,70.5 L91.7,74.0 L92.7,77.4 L93.7,80.9 L94.7,84.3 L95.7,87.7 L96.7,91.2 L97.7,94.6 L98.7,98.0 L99.7,101.4 L100.7,104.8 L101.7,108.2 L102.7,111.6 L103.7,115.0 L104.7,118.4 L105.7,121.7 L106.7,125.1 L107.7,128.4 L108.7,131.7 L109.7,135.1 L110.7,138.4 L111.7,141.7 L112.7,145.0 L113.7,148.2 L114.7,151.5 L115.7,154.8 L116.7,158.0 L117.7,161.2 L118.6,164.4 L119.6,167.6 L120.6,170.8 L121.6,174.0 L122.6,177.2 L123.6,180.3 L124.6,183.4 L125.6,186.5 L126.6,189.6 L127.6,192.7 L128.6,195.8 L129.6,198.8 L130.6,201.8 L131.6,204.8 L132.6,207.8 L133.6,210.8 L134.6,213.7 L135.6,216.7 L136.6,219.6 L137.6,222.5 L138.6,225.3 L139.6,228.2 L140.6,231.0 L141.6,233.8 L142.6,236.6 L143.6,239.4 L144.6,242.1 L145.6,244.8 L146.6,247.5 L147.6,250.2 L148.6,252.8 L149.6,255.4 L150.6,258.0 L151.6,260.6 L152.6,263.2 L153.6,265.7 L154.6,268.2 L155.6,270.7 L156.6,273.1 L157.6,275.5 L158.6,277.9 L159.6,280.3 L160.6,282.6 L161.6,284.9 L162.6,287.2 L163.6,288.2 L164.6,288.6 L165.6,289.1 L166.6,289.5 L167.6,289.9 L168.6,290.3 L169.6,290.7 L170.6,291.1 L171.6,291.5 L172.6,291.9 L173.6,292.4 L174.6,292.7 L175.6,293.1 L176.6,293.5 L177.6,293.9 L178.6,294.3 L179.6,294.7 L180.6,295.1 L181.6,295.4 L182.6,295.8 L183.6,296.2 L184.6,296.6 L185.6,296.9 L186.6,297.3 L187.6,297.6 L188.6,298.0 L189.6,298.3 L190.6,298.7 L191.6,299.0 L192.6,299.3 L193.6,299.7 L194.5,300.0 L195.5,300.3 L196.5,300.6 L197.5,300.9 L198.5,301.2 L199.5,301.5 L200.5,301.8 L201.5,302.1 L202.5,302.4 L203.5,302.7 L204.5,303.0 L205.5,303.2 L206.5,303.5 L207.5,303.8 L208.5,304.0 L209.5,304.3 L210.5,304.5 L211.5,304.7 L212.5,305.0 L213.5,305.2 L214.5,305.4 L215.5,305.6 L216.5,305.8 L217.5,306.0 L218.5,306.2 L219.5,306.4 L220.5,306.6 L221.5,306.8 L222.5,307.0 L223.5,307.1 L224.5,307.3 L225.5,307.4 L226.5,307.6 L227.5,307.7 L228.5,307.8 L229.5,307.9 L230.5,308.0 L231.5,308.1 L232.5,308.2 L233.5,308.3 L234.5,308.4 L235.5,308.5 L236.5,308.5 L237.5,308.6 L238.5,308.6 L239.5,308.7 L240.5,308.7 L241.5,308.7 L242.5,308.7 L243.5,308.7 L244.5,308.7 L245.5,308.7 L246.5,308.7 L247.5,308.6 L248.5,308.6 L249.5,308.5 L250.5,308.5 L251.5,308.4 L252.5,308.3 L253.5,308.2 L254.5,308.1 L255.5,308.0 L256.5,307.9 L257.5,307.7 L258.5,307.6 L259.5,307.4 L260.5,307.2 L261.5,307.1 L262.5,306.9 L263.5,306.7 L264.5,306.5 L265.5,306.2 L266.5,306.0 L267.5,305.8 L268.5,305.5 L269.5,305.2 L270.5,305.0 L271.4,304.7 L272.4,304.4 L273.4,304.0 L274.4,303.7 L275.4,303.4 L276.4,303.0 L277.4,302.7 L278.4,302.3 L279.4,301.9 L280.4,301.5 L281.4,301.1 L282.4,300.7 L283.4,300.3 L284.4,299.8 L285.4,299.4 L286.4,298.9 L287.4,298.5 L288.4,298.0 L289.4,297.5 L290.4,297.0 L291.4,296.4 L292.4,295.9 L293.4,295.4 L294.4,294.8 L295.4,294.2 L296.4,293.7 L297.4,293.1 L298.4,292.5 L299.4,291.9 L300.4,291.3 L301.4,290.6 L302.4,290.0 L303.4,289.3 L304.4,288.7 L305.4,288.0 L306.4,287.3 L307.4,286.6 L308.4,285.9 L309.4,285.2 L310.4,284.5 L311.4,283.7 L312.4,283.0 L313.4,282.2 L314.4,281.5 L315.4,280.7 L316.4,279.9 L317.4,279.1 L318.4,278.3 L319.4,277.5 L320.4,276.7 L321.4,275.8 L322.4,275.0 L323.4,274.1 L324.4,273.3 L325.4,272.4 L326.4,271.5 L327.4,270.7 L328.4,269.8 L329.4,268.9 L330.4,268.0 L331.4,267.0 L332.4,266.1 L333.4,265.2 L334.4,264.3 L335.4,263.3 L336.4,262.4 L337.4,261.4 L338.4,260.4 L339.4,259.5 L340.4,258.5 L341.4,257.5 L342.4,256.5 L343.4,255.5 L344.4,254.5 L345.4,253.5 L346.4,252.5 L347.3,251.5 L348.3,250.4 L349.3,249.4 L350.3,248.4 L351.3,247.3 L352.3,246.3 L353.3,245.2 L354.3,244.2 L355.3,243.1 L356.3,242.1 L357.3,241.0 L358.3,239.9 L359.3,238.8 L360.3,237.8 L361.3,236.7 L362.3,235.6 L363.3,234.5 L364.3,233.4 L365.3,232.3 L366.3,231.2 L367.3,230.1 L368.3,229.0 L369.3,227.9 L370.3,226.8 L371.3,225.7 L372.3,224.6 L373.3,223.5 L374.3,222.4 L375.3,221.2 L376.3,220.1 L377.3,219.0 L378.3,217.9 L379.3,216.8 L380.3,215.6 L381.3,214.5 L382.3,213.4 L383.3,212.3 L384.3,211.1 L385.3,210.0 L386.3,208.9 L387.3,207.7 L388.3,206.6 L389.3,205.5 L390.3,204.3 L391.3,203.2 L392.3,202.0 L393.3,200.9 L394.3,199.8 L395.3,198.6 L396.3,197.5 L397.3,196.3 L398.3,195.2 L399.3,194.0 L400.3,192.9 L401.3,191.7 L402.3,190.6 L403.3,189.4 L404.3,188.3 L405.3,187.1 L406.3,186.0 L407.3,184.8 L408.3,183.7 L409.3,182.5 L410.3,181.3 L411.3,180.2 L412.3,179.0 L413.3,177.9 L414.3,176.7 L415.3,175.5 L416.3,174.4 L417.3,173.2 L418.3,172.0 L419.3,170.9 L420.3,169.7 L421.3,168.5 L422.3,167.4 L423.3,166.2 L424.2,165.0 L425.2,163.9 L426.2,162.7 L427.2,161.5 L428.2,160.4 L429.2,159.2 L430.2,158.0 L431.2,156.8 L432.2,155.7 L433.2,154.5 L434.2,153.3 L435.2,152.1 L436.2,151.0 L437.2,149.8 L438.2,148.6 L439.2,147.4 L440.2,146.3 L441.2,145.1 L442.2,143.9 L443.2,142.7 L444.2,141.5 L445.2,140.4 L446.2,139.2 L447.2,138.0 L448.2,136.8 L449.2,135.6 L450.2,134.4 L451.2,133.3 L452.2,132.1 L453.2,130.9 L454.2,129.7 L455.2,128.5 L456.2,127.3 L457.2,126.2 L458.2,125.0 L459.2,123.8 L460.2,122.6 L461.2,121.4 L462.2,120.2 L463.2,119.0 L464.2,117.8 L465.2,116.7 L466.2,115.5 L467.2,114.3 L468.2,113.1 L469.2,111.9 L470.2,110.7 L471.2,109.5 L472.2,108.3 L473.2,107.1 L474.2,105.9 L475.2,104.7 L476.2,103.5 L477.2,102.4 L478.2,101.2 L479.2,100.0 L480.2,98.8 L481.2,97.6 L482.2,96.4 L483.2,95.2 L484.2,94.0 L485.2,92.8 L486.2,91.6 L487.2,90.4 L488.2,89.2 L489.2,88.0 L490.2,86.8 L491.2,85.6 L492.2,84.4 L493.2,83.2 L494.2,82.0 L495.2,80.8 L496.2,79.6 L497.2,78.4 L498.2,77.2 L499.2,76.0 L500.1,74.8 L501.1,73.6 L502.1,72.4 L503.1,71.2 L504.1,70.0 L505.1,68.8 L506.1,67.6 L507.1,66.4 L508.1,65.2 L509.1,64.0 L510.1,62.8 L511.1,61.6 L512.1,60.4 L513.1,59.2 L514.1,58.0 L515.1,56.8 L516.1,55.6 L517.1,54.4 L518.1,53.2 L519.1,52.0 L520.1,50.8 L521.1,49.6 L522.1,48.4 L523.1,47.2 L524.1,46.0 L525.1,44.8 L526.1,43.6 L527.1,42.4 L528.1,41.2 L529.1,40.0 L530.1,38.7 L531.1,37.5 L532.1,36.3 L533.1,35.1 L534.1,33.9 L535.1,32.7 L536.1,31.5 L537.1,30.3 L538.1,29.1 L538.1,558.7 L537.1,558.0 L536.1,557.4 L535.1,556.8 L534.1,556.1 L533.1,555.5 L532.1,554.9 L531.1,554.2 L530.1,553.6 L529.1,553.0 L528.1,552.3 L527.1,551.7 L526.1,551.1 L525.1,550.4 L524.1,549.8 L523.1,549.2 L522.1,548.5 L521.1,547.9 L520.1,547.3 L519.1,546.7 L518.1,546.0 L517.1,545.4 L516.1,544.8 L515.1,544.1 L514.1,543.5 L513.1,542.9 L512.1,542.2 L511.1,541.6 L510.1,541.0 L509.1,540.4 L508.1,539.7 L507.1,539.1 L506.1,538.5 L505.1,537.8 L504.1,537.2 L503.1,536.6 L502.1,536.0 L501.1,535.3 L500.1,534.7 L499.2,534.1 L498.2,533.5 L497.2,532.8 L496.2,532.2 L495.2,531.6 L494.2,531.0 L493.2,530.3 L492.2,529.7 L491.2,529.1 L490.2,528.5 L489.2,527.8 L488.2,527.2 L487.2,526.6 L486.2,526.0 L485.2,525.3 L484.2,524.7 L483.2,524.1 L482.2,523.5 L481.2,522.8 L480.2,522.2 L479.2,521.6 L478.2,521.0 L477.2,520.4 L476.2,519.7 L475.2,519.1 L474.2,518.5 L473.2,517.9 L472.2,517.3 L471.2,516.6 L470.2,516.0 L469.2,515.4 L468.2,514.8 L467.2,514.2 L466.2,513.6 L465.2,512.9 L464.2,512.3 L463.2,511.7 L462.2,511.1 L461.2,510.5 L460.2,509.9 L459.2,509.2 L458.2,508.6 L457.2,508.0 L456.2,507.4 L455.2,506.8 L454.2,506.2 L453.2,505.6 L452.2,505.0 L451.2,504.3 L450.2,503.7 L449.2,503.1 L448.2,502.5 L447.2,501.9 L446.2,501.3 L445.2,500.7 L444.2,500.1 L443.2,499.5 L442.2,498.9 L441.2,498.3 L440.2,497.7 L439.2,497.0 L438.2,496.4 L437.2,495.8 L436.2,495.2 L435.2,494.6 L434.2,494.0 L433.2,493.4 L432.2,492.8 L431.2,492.2 L430.2,491.6 L429.2,491.0 L428.2,490.4 L427.2,489.8 L426.2,489.2 L425.2,488.6 L424.2,488.0 L423.3,487.4 L422.3,486.8 L421.3,486.2 L420.3,485.7 L419.3,485.1 L418.3,484.5 L417.3,483.9 L416.3,483.3 L415.3,482.7 L414.3,482.1 L413.3,481.5 L412.3,480.9 L411.3,480.3 L410.3,479.8 L409.3,479.2 L408.3,478.6 L407.3,478.0 L406.3,477.4 L405.3,476.8 L404.3,476.3 L403.3,475.7 L402.3,475.1 L401.3,474.5 L400.3,473.9 L399.3,473.4 L398.3,472.8 L397.3,472.2 L396.3,471.6 L395.3,471.1 L394.3,470.5 L393.3,469.9 L392.3,469.4 L391.3,468.8 L390.3,468.2 L389.3,467.7 L388.3,467.1 L387.3,466.5 L386.3,466.0 L385.3,465.4 L384.3,464.9 L383.3,464.3 L382.3,463.8 L381.3,463.2 L380.3,462.6 L379.3,462.1 L378.3,461.5 L377.3,461.0 L376.3,460.5 L375.3,459.9 L374.3,459.4 L373.3,458.8 L372.3,458.3 L371.3,457.7 L370.3,457.2 L369.3,456.7 L368.3,456.1 L367.3,455.6 L366.3,455.1 L365.3,454.6 L364.3,454.0 L363.3,453.5 L362.3,453.0 L361.3,452.5 L360.3,451.9 L359.3,451.4 L358.3,450.9 L357.3,450.4 L356.3,449.9 L355.3,449.4 L354.3,448.9 L353.3,448.4 L352.3,447.9 L351.3,447.4 L350.3,446.9 L349.3,446.4 L348.3,445.9 L347.3,445.4 L346.4,444.9 L345.4,444.4 L344.4,443.9 L343.4,443.4 L342.4,442.9 L341.4,442.4 L340.4,442.0 L339.4,441.5 L338.4,441.0 L337.4,440.5 L336.4,440.0 L335.4,439.6 L334.4,439.1 L333.4,438.6 L332.4,438.2 L331.4,437.7 L330.4,437.2 L329.4,436.8 L328.4,436.3 L327.4,435.8 L326.4,435.4 L325.4,434.9 L324.4,434.5 L323.4,434.0 L322.4,433.6 L321.4,433.1 L320.4,432.7 L319.4,432.2 L318.4,431.8 L317.4,431.3 L316.4,430.9 L315.4,430.4 L314.4,430.0 L313.4,429.5 L312.4,429.1 L311.4,428.7 L310.4,428.2 L309.4,427.8 L308.4,427.3 L307.4,426.9 L306.4,426.5 L305.4,426.0 L304.4,425.6 L303.4,425.2 L302.4,424.7 L301.4,424.3 L300.4,423.9 L299.4,423.4 L298.4,423.0 L297.4,422.6 L296.4,422.1 L295.4,421.7 L294.4,421.3 L293.4,420.8 L292.4,420.4 L291.4,420.0 L290.4,419.5 L289.4,419.1 L288.4,418.7 L287.4,418.2 L286.4,417.8 L285.4,417.3 L284.4,416.9 L283.4,416.5 L282.4,416.0 L281.4,415.6 L280.4,415.1 L279.4,414.7 L278.4,414.2 L277.4,413.8 L276.4,413.3 L275.4,412.9 L274.4,412.4 L273.4,411.9 L272.4,411.5 L271.4,411.0 L270.5,410.5 L269.5,410.0 L268.5,409.6 L267.5,409.1 L266.5,408.6 L265.5,408.1 L264.5,407.6 L263.5,407.1 L262.5,406.6 L261.5,406.0 L260.5,405.5 L259.5,405.0 L258.5,404.4 L257.5,403.9 L256.5,403.4 L255.5,402.8 L254.5,402.2 L253.5,401.7 L252.5,401.1 L251.5,400.5 L250.5,399.9 L249.5,399.3 L248.5,398.7 L247.5,398.1 L246.5,397.5 L245.5,396.8 L244.5,396.2 L243.5,395.5 L242.5,394.9 L241.5,394.2 L240.5,393.5 L239.5,392.8 L238.5,392.1 L237.5,391.4 L236.5,390.6 L235.5,389.9 L234.5,389.1 L233.5,388.4 L232.5,387.6 L231.5,386.8 L230.5,386.0 L229.5,385.2 L228.5,384.4 L227.5,383.5 L226.5,382.6 L225.5,381.8 L224.5,380.9 L223.5,380.0 L222.5,379.1 L221.5,378.1 L220.5,377.2 L219.5,376.2 L218.5,375.2 L217.5,374.2 L216.5,373.2 L215.5,372.2 L214.5,371.1 L213.5,370.1 L212.5,369.0 L211.5,367.9 L210.5,366.8 L209.5,365.6 L208.5,364.5 L207.5,363.3 L206.5,362.1 L205.5,360.9 L204.5,359.6 L203.5,358.4 L202.5,357.1 L201.5,355.8 L200.5,354.5 L199.5,353.2 L198.5,351.8 L197.5,350.4 L196.5,349.0 L195.5,347.6 L194.5,346.2 L193.6,344.7 L192.6,343.2 L191.6,341.7 L190.6,340.2 L189.6,338.6 L188.6,337.0 L187.6,335.4 L186.6,333.8 L185.6,332.2 L184.6,330.5 L183.6,328.8 L182.6,327.1 L181.6,325.3 L180.6,323.6 L179.6,321.8 L178.6,319.9 L177.6,318.1 L176.6,316.2 L175.6,314.3 L174.6,312.4 L173.6,310.5 L172.6,308.5 L171.6,306.5 L170.6,304.4 L169.6,302.4 L168.6,300.3 L167.6,298.2 L166.6,296.0 L165.6,293.9 L164.6,291.7 L163.6,289.5 L162.6,287.8 L161.6,287.3 L160.6,286.9 L159.6,286.5 L158.6,286.0 L157.6,285.6 L156.6,285.1 L155.6,284.7 L154.6,284.2 L153.6,283.8 L152.6,283.3 L151.6,282.9 L150.6,282.4 L149.6,281.9 L148.6,281.5 L147.6,281.0 L146.6,280.6 L145.6,280.1 L144.6,279.6 L143.6,279.2 L142.6,278.7 L141.6,278.2 L140.6,277.7 L139.6,277.3 L138.6,276.8 L137.6,276.3 L136.6,275.8 L135.6,275.3 L134.6,274.9 L133.6,274.4 L132.6,273.9 L131.6,273.4 L130.6,272.9 L129.6,272.4 L128.6,272.0 L127.6,271.5 L126.6,271.0 L125.6,270.5 L124.6,270.0 L123.6,269.5 L122.6,269.0 L121.6,268.5 L120.6,268.0 L119.6,267.5 L118.6,267.0 L117.7,266.5 L116.7,266.0 L115.7,265.5 L114.7,265.0 L113.7,264.5 L112.7,264.0 L111.7,263.5 L110.7,263.0 L109.7,262.5 L108.7,262.0 L107.7,261.5 L106.7,261.0 L105.7,260.5 L104.7,260.0 L103.7,259.5 L102.7,259.0 L101.7,258.5 L100.7,258.0 L99.7,257.5 L98.7,257.0 L97.7,256.5 L96.7,256.0 L95.7,255.5 L94.7,255.0 L93.7,254.5 L92.7,253.9 L91.7,253.4 L90.7,252.9 L89.7,252.4 L88.7,251.9 L87.7,251.4 L86.7,250.9 L85.7,250.4 L84.7,249.9 L83.7,249.4 L82.7,248.9 L81.7,248.4 L80.7,247.9 L79.7,247.3Z" fill="#00BA38" fill-opacity="0.072" stroke="none"/>
<path d="M79.7,174.2 L80.7,177.0 L81.7,179.8 L82.7,182.5 L83.7,185.3 L84.7,188.1 L85.7,190.8 L86.7,193.6 L87.7,196.4 L88.7,199.1 L89.7,201.9 L90.7,204.7 L91.7,207.4 L92.7,210.2 L93.7,213.0 L94.7,215.7 L95.7,218.5 L96.7,221.3 L97.7,224.0 L98.7,226.8 L99.7,229.6 L100.7,232.3 L101.7,235.1 L102.7,237.9 L103.7,240.6 L104.7,243.4 L105.7,246.2 L106.7,248.9 L107.7,251.7 L108.7,254.4 L109.7,257.1 L110.7,259.8 L111.7,262.5 L112.7,265.2 L113.7,267.8 L114.7,270.4 L115.7,273.0 L116.7,275.6 L117.7,278.1 L118.6,280.6 L119.6,283.1 L120.6,285.6 L121.6,287.9 L122.6,288.8 L123.6,289.6 L124.6,290.4 L125.6,291.2 L126.6,292.0 L127.6,292.8 L128.6,293.6 L129.6,294.4 L130.6,295.2 L131.6,296.0 L132.6,296.8 L133.6,297.6 L134.6,298.4 L135.6,299.2 L136.6,299.9 L137.6,300.7 L138.6,301.5 L139.6,302.2 L140.6,303.0 L141.6,303.7 L142.6,304.5 L143.6,305.2 L144.6,306.0 L145.6,306.7 L146.6,307.4 L147.6,308.2 L148.6,308.9 L149.6,309.6 L150.6,310.3 L151.6,311.0 L152.6,311.7 L153.6,312.4 L154.6,313.1 L155.6,313.8 L156.6,314.5 L157.6,315.2 L158.6,315.9 L159.6,316.6 L160.6,317.3 L161.6,317.9 L162.6,318.6 L163.6,319.3 L164.6,319.9 L165.6,320.6 L166.6,321.2 L167.6,321.9 L168.6,322.5 L169.6,323.1 L170.6,323.8 L171.6,324.4 L172.6,325.0 L173.6,325.7 L174.6,326.3 L175.6,326.9 L176.6,327.5 L177.6,328.1 L178.6,328.7 L179.6,329.3 L180.6,329.9 L181.6,330.5 L182.6,331.1 L183.6,331.6 L184.6,332.2 L185.6,332.8 L186.6,333.3 L187.6,333.9 L188.6,334.5 L189.6,335.0 L190.6,335.6 L191.6,336.1 L192.6,336.6 L193.6,337.2 L194.5,337.7 L195.5,338.2 L196.5,338.8 L197.5,339.3 L198.5,339.8 L199.5,340.3 L200.5,340.8 L201.5,341.3 L202.5,341.8 L203.5,342.3 L204.5,342.7 L205.5,343.2 L206.5,343.7 L207.5,344.2 L208.5,344.6 L209.5,345.1 L210.5,345.5 L211.5,346.0 L212.5,346.4 L213.5,346.9 L214.5,347.3 L215.5,347.7 L216.5,348.1 L217.5,348.6 L218.5,349.0 L219.5,349.4 L220.5,349.8 L221.5,350.2 L222.5,350.6 L223.5,350.9 L224.5,351.3 L225.5,351.7 L226.5,352.1 L227.5,352.4 L228.5,352.8 L229.5,353.1 L230.5,353.5 L231.5,353.8 L232.5,354.1 L233.5,354.5 L234.5,354.8 L235.5,355.1 L236.5,355.4 L237.5,355.7 L238.5,356.0 L239.5,356.3 L240.5,356.6 L241.5,356.8 L242.5,357.1 L243.5,357.4 L244.5,357.6 L245.5,357.9 L246.5,358.1 L247.5,358.4 L248.5,358.6 L249.5,358.8 L250.5,359.0 L251.5,359.2 L252.5,359.4 L253.5,359.6 L254.5,359.8 L255.5,360.0 L256.5,360.2 L257.5,360.4 L258.5,360.5 L259.5,360.7 L260.5,360.8 L261.5,361.0 L262.5,361.1 L263.5,361.2 L264.5,361.4 L265.5,361.5 L266.5,361.6 L267.5,361.7 L268.5,361.8 L269.5,361.9 L270.5,362.0 L271.4,362.0 L272.4,362.1 L273.4,362.2 L274.4,362.2 L275.4,362.2 L276.4,362.3 L277.4,362.3 L278.4,362.3 L279.4,362.4 L280.4,362.4 L281.4,362.4 L282.4,362.4 L283.4,362.4 L284.4,362.4 L285.4,362.3 L286.4,362.3 L287.4,362.3 L288.4,362.2 L289.4,362.2 L290.4,362.1 L291.4,362.1 L292.4,362.0 L293.4,361.9 L294.4,361.8 L295.4,361.8 L296.4,361.7 L297.4,361.6 L298.4,361.5 L299.4,361.4 L300.4,361.2 L301.4,361.1 L302.4,361.0 L303.4,360.9 L304.4,360.7 L305.4,360.6 L306.4,360.4 L307.4,360.3 L308.4,360.1 L309.4,360.0 L310.4,359.8 L311.4,359.6 L312.4,359.4 L313.4,359.3 L314.4,359.1 L315.4,358.9 L316.4,358.7 L317.4,358.5 L318.4,358.3 L319.4,358.1 L320.4,357.9 L321.4,357.7 L322.4,357.4 L323.4,357.2 L324.4,357.0 L325.4,356.8 L326.4,356.5 L327.4,356.3 L328.4,356.1 L329.4,355.8 L330.4,355.6 L331.4,355.4 L332.4,355.1 L333.4,354.9 L334.4,354.6 L335.4,354.4 L336.4,354.1 L337.4,353.9 L338.4,353.6 L339.4,353.3 L340.4,353.1 L341.4,352.8 L342.4,352.5 L343.4,352.3 L344.4,352.0 L345.4,351.7 L346.4,351.4 L347.3,351.2 L348.3,350.9 L349.3,350.6 L350.3,350.3 L351.3,350.0 L352.3,349.7 L353.3,349.5 L354.3,349.2 L355.3,348.9 L356.3,348.6 L357.3,348.3 L358.3,348.0 L359.3,347.7 L360.3,347.4 L361.3,347.1 L362.3,346.8 L363.3,346.5 L364.3,346.2 L365.3,345.9 L366.3,345.6 L367.3,345.3 L368.3,344.9 L369.3,344.6 L370.3,344.3 L371.3,344.0 L372.3,343.7 L373.3,343.4 L374.3,343.0 L375.3,342.7 L376.3,342.4 L377.3,342.1 L378.3,341.8 L379.3,341.4 L380.3,341.1 L381.3,340.8 L382.3,340.5 L383.3,340.1 L384.3,339.8 L385.3,339.5 L386.3,339.1 L387.3,338.8 L388.3,338.5 L389.3,338.1 L390.3,337.8 L391.3,337.5 L392.3,337.1 L393.3,336.8 L394.3,336.5 L395.3,336.1 L396.3,335.8 L397.3,335.4 L398.3,335.1 L399.3,334.7 L400.3,334.4 L401.3,334.1 L402.3,333.7 L403.3,333.4 L404.3,333.0 L405.3,332.7 L406.3,332.3 L407.3,332.0 L408.3,331.6 L409.3,331.3 L410.3,330.9 L411.3,330.6 L412.3,330.2 L413.3,329.9 L414.3,329.5 L415.3,329.2 L416.3,328.8 L417.3,328.4 L418.3,328.1 L419.3,327.7 L420.3,327.4 L421.3,327.0 L422.3,326.7 L423.3,326.3 L424.2,325.9 L425.2,325.6 L426.2,325.2 L427.2,324.9 L428.2,324.5 L429.2,324.1 L430.2,323.8 L431.2,323.4 L432.2,323.0 L433.2,322.7 L434.2,322.3 L435.2,322.0 L436.2,321.6 L437.2,321.2 L438.2,320.9 L439.2,320.5 L440.2,320.1 L441.2,319.8 L442.2,319.4 L443.2,319.0 L444.2,318.6 L445.2,318.3 L446.2,317.9 L447.2,317.5 L448.2,317.2 L449.2,316.8 L450.2,316.4 L451.2,316.0 L452.2,315.7 L453.2,315.3 L454.2,314.9 L455.2,314.6 L456.2,314.2 L457.2,313.8 L458.2,313.4 L459.2,313.1 L460.2,312.7 L461.2,312.3 L462.2,311.9 L463.2,311.6 L464.2,311.2 L465.2,310.8 L466.2,310.4 L467.2,310.0 L468.2,309.7 L469.2,309.3 L470.2,308.9 L471.2,308.5 L472.2,308.2 L473.2,307.8 L474.2,307.4 L475.2,307.0 L476.2,306.6 L477.2,306.3 L478.2,305.9 L479.2,305.5 L480.2,305.1 L481.2,304.7 L482.2,304.3 L483.2,304.0 L484.2,303.6 L485.2,303.2 L486.2,302.8 L487.2,302.4 L488.2,302.1 L489.2,301.7 L490.2,301.3 L491.2,300.9 L492.2,300.5 L493.2,300.1 L494.2,299.7 L495.2,299.4 L496.2,299.0 L497.2,298.6 L498.2,298.2 L499.2,297.8 L500.1,297.4 L501.1,297.0 L502.1,296.7 L503.1,296.3 L504.1,295.9 L505.1,295.5 L506.1,295.1 L507.1,294.7 L508.1,294.3 L509.1,293.9 L510.1,293.6 L511.1,293.2 L512.1,292.8 L513.1,292.4 L514.1,292.0 L515.1,291.6 L516.1,291.2 L517.1,290.8 L518.1,290.4 L519.1,290.1 L520.1,289.7 L521.1,289.3 L522.1,288.9 L523.1,288.5 L524.1,288.1 L525.1,287.7 L526.1,287.3 L527.1,286.9 L528.1,286.5 L529.1,286.2 L530.1,285.8 L531.1,285.4 L532.1,285.0 L533.1,284.6 L534.1,284.2 L535.1,283.8 L536.1,283.4 L537.1,283.0 L538.1,282.6 L538.1,587.2 L537.1,586.6 L536.1,586.0 L535.1,585.4 L534.1,584.8 L533.1,584.2 L532.1,583.6 L531.1,583.0 L530.1,582.5 L529.1,581.9 L528.1,581.3 L527.1,580.7 L526.1,580.1 L525.1,579.5 L524.1,578.9 L523.1,578.3 L522.1,577.7 L521.1,577.1 L520.1,576.5 L519.1,576.0 L518.1,575.4 L517.1,574.8 L516.1,574.2 L515.1,573.6 L514.1,573.0 L513.1,572.4 L512.1,571.8 L511.1,571.3 L510.1,570.7 L509.1,570.1 L508.1,569.5 L507.1,568.9 L506.1,568.3 L505.1,567.7 L504.1,567.1 L503.1,566.6 L502.1,566.0 L501.1,565.4 L500.1,564.8 L499.2,564.2 L498.2,563.6 L497.2,563.0 L496.2,562.5 L495.2,561.9 L494.2,561.3 L493.2,560.7 L492.2,560.1 L491.2,559.5 L490.2,558.9 L489.2,558.4 L488.2,557.8 L487.2,557.2 L486.2,556.6 L485.2,556.0 L484.2,555.5 L483.2,554.9 L482.2,554.3 L481.2,553.7 L480.2,553.1 L479.2,552.5 L478.2,552.0 L477.2,551.4 L476.2,550.8 L475.2,550.2 L474.2,549.6 L473.2,549.1 L472.2,548.5 L471.2,547.9 L470.2,547.3 L469.2,546.8 L468.2,546.2 L467.2,545.6 L466.2,545.0 L465.2,544.4 L464.2,543.9 L463.2,543.3 L462.2,542.7 L461.2,542.1 L460.2,541.6 L459.2,541.0 L458.2,540.4 L457.2,539.8 L456.2,539.3 L455.2,538.7 L454.2,538.1 L453.2,537.6 L452.2,537.0 L451.2,536.4 L450.2,535.8 L449.2,535.3 L448.2,534.7 L447.2,534.1 L446.2,533.6 L445.2,533.0 L444.2,532.4 L443.2,531.8 L442.2,531.3 L441.2,530.7 L440.2,530.1 L439.2,529.6 L438.2,529.0 L437.2,528.4 L436.2,527.9 L435.2,527.3 L434.2,526.7 L433.2,526.2 L432.2,525.6 L431.2,525.1 L430.2,524.5 L429.2,523.9 L428.2,523.4 L427.2,522.8 L426.2,522.2 L425.2,521.7 L424.2,521.1 L423.3,520.6 L422.3,520.0 L421.3,519.5 L420.3,518.9 L419.3,518.3 L418.3,517.8 L417.3,517.2 L416.3,516.7 L415.3,516.1 L414.3,515.6 L413.3,515.0 L412.3,514.5 L411.3,513.9 L410.3,513.4 L409.3,512.8 L408.3,512.3 L407.3,511.7 L406.3,511.2 L405.3,510.6 L404.3,510.1 L403.3,509.5 L402.3,509.0 L401.3,508.4 L400.3,507.9 L399.3,507.3 L398.3,506.8 L397.3,506.3 L396.3,505.7 L395.3,505.2 L394.3,504.6 L393.3,504.1 L392.3,503.6 L391.3,503.0 L390.3,502.5 L389.3,502.0 L388.3,501.4 L387.3,500.9 L386.3,500.4 L385.3,499.8 L384.3,499.3 L383.3,498.8 L382.3,498.2 L381.3,497.7 L380.3,497.2 L379.3,496.7 L378.3,496.1 L377.3,495.6 L376.3,495.1 L375.3,494.6 L374.3,494.0 L373.3,493.5 L372.3,493.0 L371.3,492.5 L370.3,492.0 L369.3,491.5 L368.3,491.0 L367.3,490.4 L366.3,489.9 L365.3,489.4 L364.3,488.9 L363.3,488.4 L362.3,487.9 L361.3,487.4 L360.3,486.9 L359.3,486.4 L358.3,485.9 L357.3,485.4 L356.3,484.9 L355.3,484.4 L354.3,483.9 L353.3,483.5 L352.3,483.0 L351.3,482.5 L350.3,482.0 L349.3,481.5 L348.3,481.0 L347.3,480.5 L346.4,480.1 L345.4,479.6 L344.4,479.1 L343.4,478.7 L342.4,478.2 L341.4,477.7 L340.4,477.3 L339.4,476.8 L338.4,476.3 L337.4,475.9 L336.4,475.4 L335.4,475.0 L334.4,474.5 L333.4,474.1 L332.4,473.6 L331.4,473.2 L330.4,472.7 L329.4,472.3 L328.4,471.8 L327.4,471.4 L326.4,471.0 L325.4,470.5 L324.4,470.1 L323.4,469.7 L322.4,469.3 L321.4,468.9 L320.4,468.4 L319.4,468.0 L318.4,467.6 L317.4,467.2 L316.4,466.8 L315.4,466.4 L314.4,466.0 L313.4,465.6 L312.4,465.2 L311.4,464.8 L310.4,464.4 L309.4,464.0 L308.4,463.6 L307.4,463.2 L306.4,462.8 L305.4,462.5 L304.4,462.1 L303.4,461.7 L302.4,461.3 L301.4,460.9 L300.4,460.6 L299.4,460.2 L298.4,459.8 L297.4,459.5 L296.4,459.1 L295.4,458.7 L294.4,458.3 L293.4,458.0 L292.4,457.6 L291.4,457.3 L290.4,456.9 L289.4,456.5 L288.4,456.2 L287.4,455.8 L286.4,455.5 L285.4,455.1 L284.4,454.7 L283.4,454.4 L282.4,454.0 L281.4,453.7 L280.4,453.3 L279.4,453.0 L278.4,452.6 L277.4,452.2 L276.4,451.9 L275.4,451.5 L274.4,451.2 L273.4,450.8 L272.4,450.4 L271.4,450.1 L270.5,449.7 L269.5,449.4 L268.5,449.0 L267.5,448.6 L266.5,448.3 L265.5,447.9 L264.5,447.5 L263.5,447.1 L262.5,446.8 L261.5,446.4 L260.5,446.0 L259.5,445.6 L258.5,445.2 L257.5,444.8 L256.5,444.4 L255.5,444.0 L254.5,443.6 L253.5,443.2 L252.5,442.8 L251.5,442.4 L250.5,442.0 L249.5,441.6 L248.5,441.1 L247.5,440.7 L246.5,440.3 L245.5,439.8 L244.5,439.4 L243.5,438.9 L242.5,438.5 L241.5,438.0 L240.5,437.5 L239.5,437.1 L238.5,436.6 L237.5,436.1 L236.5,435.6 L235.5,435.1 L234.5,434.6 L233.5,434.1 L232.5,433.5 L231.5,433.0 L230.5,432.5 L229.5,431.9 L228.5,431.3 L227.5,430.8 L226.5,430.2 L225.5,429.6 L224.5,429.0 L223.5,428.4 L222.5,427.8 L221.5,427.2 L220.5,426.6 L219.5,425.9 L218.5,425.3 L217.5,424.6 L216.5,424.0 L215.5,423.3 L214.5,422.6 L213.5,421.9 L212.5,421.2 L211.5,420.4 L210.5,419.7 L209.5,419.0 L208.5,418.2 L207.5,417.4 L206.5,416.6 L205.5,415.8 L204.5,415.0 L203.5,414.2 L202.5,413.4 L201.5,412.5 L200.5,411.7 L199.5,410.8 L198.5,409.9 L197.5,409.0 L196.5,408.1 L195.5,407.1 L194.5,406.2 L193.6,405.2 L192.6,404.3 L191.6,403.3 L190.6,402.3 L189.6,401.3 L188.6,400.2 L187.6,399.2 L186.6,398.1 L185.6,397.0 L184.6,395.9 L183.6,394.8 L182.6,393.7 L181.6,392.5 L180.6,391.4 L179.6,390.2 L178.6,389.0 L177.6,387.8 L176.6,386.6 L175.6,385.3 L174.6,384.1 L173.6,382.8 L172.6,381.5 L171.6,380.2 L170.6,378.8 L169.6,377.5 L168.6,376.1 L167.6,374.7 L166.6,373.3 L165.6,371.9 L164.6,370.4 L163.6,368.9 L162.6,367.5 L161.6,365.9 L160.6,364.4 L159.6,362.9 L158.6,361.3 L157.6,359.7 L156.6,358.1 L155.6,356.5 L154.6,354.8 L153.6,353.2 L152.6,351.5 L151.6,349.8 L150.6,348.0 L149.6,346.3 L148.6,344.5 L147.6,342.7 L146.6,340.9 L145.6,339.1 L144.6,337.2 L143.6,335.3 L142.6,333.4 L141.6,331.5 L140.6,329.5 L139.6,327.6 L138.6,325.6 L137.6,323.6 L136.6,321.5 L135.6,319.4 L134.6,317.4 L133.6,315.2 L132.6,313.1 L131.6,310.9 L130.6,308.8 L129.6,306.6 L128.6,304.3 L127.6,302.1 L126.6,299.8 L125.6,297.5 L124.6,295.2 L123.6,292.8 L122.6,290.4 L121.6,288.0 L120.6,287.1 L119.6,286.3 L118.6,285.4 L117.7,284.6 L116.7,283.7 L115.7,282.9 L114.7,282.0 L113.7,281.2 L112.7,280.3 L111.7,279.4 L110.7,278.6 L109.7,277.7 L108.7,276.8 L107.7,275.9 L106.7,275.0 L105.7,274.2 L104.7,273.3 L103.7,272.4 L102.7,271.5 L101.7,270.6 L100.7,269.7 L99.7,268.9 L98.7,268.0 L97.7,267.1 L96.7,266.2 L95.7,265.3 L94.7,264.4 L93.7,263.6 L92.7,262.7 L91.7,261.8 L90.7,260.9 L89.7,260.0 L88.7,259.1 L87.7,258.2 L86.7,257.4 L85.7,256.5 L84.7,255.6 L83.7,254.7 L82.7,253.8 L81.7,252.9 L80.7,252.1 L79.7,251.2Z" fill="#619CFF" fill-opacity="0.2" stroke="none"/>
<line x1="56.2" y1="287.9" x2="538.1" y2="287.9" stroke="#000" stroke-width="2.5" stroke-dasharray="9.95 10"/>
<line x1="247.95" y1="616.6" x2="247.95" y2="2" stroke="#111" stroke-width="1.8" stroke-dasharray="6.6 6.72"/>
<line x1="56.6" y1="2" x2="56.6" y2="616.8" stroke="#1a1a1a" stroke-width="1.9"/>
<line x1="55.65" y1="615.8" x2="561" y2="615.8" stroke="#1a1a1a" stroke-width="2"/>
<line x1="51.8" y1="79.8" x2="55.8" y2="79.8" stroke="#333" stroke-width="1.5"/>
<text x="49.1" y="84.7" font-size="14" fill="#4d4d4d" stroke="#4d4d4d" stroke-width="0.2" text-anchor="end">0.2</text>
<line x1="51.8" y1="183.8" x2="55.8" y2="183.8" stroke="#333" stroke-width="1.5"/>
<text x="49.1" y="188.7" font-size="14" fill="#4d4d4d" stroke="#4d4d4d" stroke-width="0.2" text-anchor="end">0.1</text>
<line x1="51.8" y1="287.9" x2="55.8" y2="287.9" stroke="#333" stroke-width="1.5"/>
<text x="49.1" y="292.8" font-size="14" fill="#4d4d4d" stroke="#4d4d4d" stroke-width="0.2" text-anchor="end">0.0</text>
<line x1="51.8" y1="391.9" x2="55.8" y2="391.9" stroke="#333" stroke-width="1.5"/>
<text x="49.1" y="396.8" font-size="14" fill="#4d4d4d" stroke="#4d4d4d" stroke-width="0.2" text-anchor="end">−0.1</text>
<line x1="51.8" y1="496.0" x2="55.8" y2="496.0" stroke="#333" stroke-width="1.5"/>
<text x="49.1" y="500.9" font-size="14" fill="#4d4d4d" stroke="#4d4d4d" stroke-width="0.2" text-anchor="end">−0.2</text>
<line x1="51.8" y1="600.0" x2="55.8" y2="600.0" stroke="#333" stroke-width="1.5"/>
<text x="49.1" y="604.9" font-size="14" fill="#4d4d4d" stroke="#4d4d4d" stroke-width="0.2" text-anchor="end">−0.3</text>
<line x1="79.7" y1="616" x2="79.7" y2="620" stroke="#333" stroke-width="1.5"/>
<text x="79.7" y="634.1" font-size="14" fill="#4d4d4d" stroke="#4d4d4d" stroke-width="0.2" text-anchor="middle">0</text>
<line x1="204.8" y1="616" x2="204.8" y2="620" stroke="#333" stroke-width="1.5"/>
<text x="204.8" y="634.1" font-size="14" fill="#4d4d4d" stroke="#4d4d4d" stroke-width="0.2" text-anchor="middle">3</text>
<line x1="329.8" y1="616" x2="329.8" y2="620" stroke="#333" stroke-width="1.5"/>
<text x="329.8" y="634.1" font-size="14" fill="#4d4d4d" stroke="#4d4d4d" stroke-width="0.2" text-anchor="middle">6</text>
<line x1="454.9" y1="616" x2="454.9" y2="620" stroke="#333" stroke-width="1.5"/>
<text x="454.9" y="634.1" font-size="14" fill="#4d4d4d" stroke="#4d4d4d" stroke-width="0.2" text-anchor="middle">9</text>
<text x="308.8" y="658.2" font-size="21.8" fill="#000" stroke="#000" stroke-width="0.3" text-anchor="middle">Number of times fish consumed in the past 30 days</text>
<text transform="translate(17.7,279) rotate(-90)" font-size="21.8" fill="#000" stroke="#000" stroke-width="0.3" text-anchor="middle">β (95% CI) of serum cotinine levels</text>
<text x="171" y="142.3" font-size="18.6" fill="#000" stroke="#000" stroke-width="0.3">Inflection points = 4.04</text>
<text x="387.0" y="24.1" font-size="17.1" fill="#000" stroke="#000" stroke-width="0.3">Never smoker: NL-<tspan font-style="italic">P</tspan> value &lt; 0.001</text>
<text x="387.0" y="44.7" font-size="17.1" fill="#000" stroke="#000" stroke-width="0.3">Former smoker: NL-<tspan font-style="italic">P</tspan> value = 0.137</text>
<text x="387.0" y="65.3" font-size="17.1" fill="#000" stroke="#000" stroke-width="0.3">Current smoker: NL-<tspan font-style="italic">P</tspan> value = 0.062</text>
<text x="548" y="271" font-size="17.05" fill="#000" stroke="#000" stroke-width="0.3">Smoking status</text>
<line x1="550.5" y1="294.4" x2="572" y2="294.4" stroke="#F8766D" stroke-opacity="0.71" stroke-width="3.0"/>
<rect x="548.6" y="281.9" width="25.2" height="25" fill="#F8766D" fill-opacity="0.1"/>
<text x="581.6" y="299.0" font-size="12.4" fill="#000" stroke="#000" stroke-width="0.3">Never smoker</text>
<line x1="550.5" y1="321.3" x2="572" y2="321.3" stroke="#00BA38" stroke-opacity="0.71" stroke-width="3.0"/>
<rect x="548.6" y="308.8" width="25.2" height="25" fill="#00BA38" fill-opacity="0.1"/>
<text x="581.6" y="325.9" font-size="12.4" fill="#000" stroke="#000" stroke-width="0.3">Former smoker</text>
<line x1="550.5" y1="348.2" x2="572" y2="348.2" stroke="#619CFF" stroke-opacity="0.71" stroke-width="3.0"/>
<rect x="548.6" y="335.7" width="25.2" height="25" fill="#619CFF" fill-opacity="0.1"/>
<text x="581.6" y="352.8" font-size="12.4" fill="#000" stroke="#000" stroke-width="0.3">Current smoker</text>
</svg>
</body></html>
